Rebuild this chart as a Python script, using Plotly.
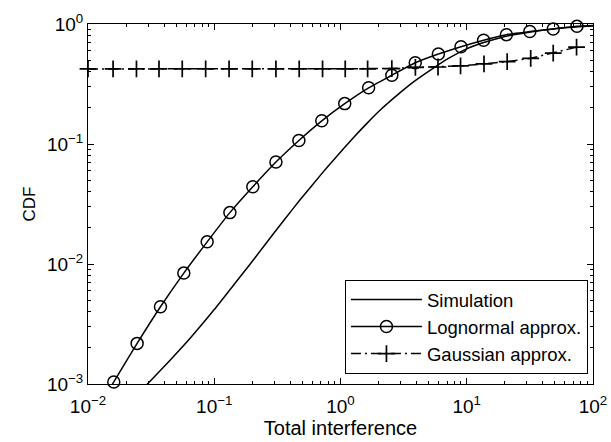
import plotly.graph_objects as go

# ---- data ----
sim_x = [0.0275, 0.0305, 0.0447, 0.0649, 0.1, 0.141, 0.188, 0.247, 0.355, 0.482,
         0.708, 0.885, 1.259, 1.626, 2.075, 2.985, 3.811, 5.483, 6.998, 10.07,
         12.85, 18.49, 23.6, 33.96, 43.35, 62.37, 100.0]
sim_y = [0.000923, 0.001035, 0.00158, 0.00243, 0.00417, 0.00659, 0.00968, 0.01406,
         0.02307, 0.03459, 0.05636, 0.07396, 0.1122, 0.1493, 0.1928, 0.2692, 0.3311,
         0.4315, 0.5093, 0.6237, 0.6871, 0.7691, 0.8128, 0.8670, 0.8974, 0.9333,
         0.9616]

logn_x = [0.016, 0.0245, 0.0375, 0.0574, 0.0879, 0.133, 0.202, 0.308, 0.468, 0.711,
          1.08, 1.67, 2.55, 3.91, 5.96, 9.0, 13.6, 20.6, 31.6, 48.4, 74.6]
logn_y = [0.00104, 0.00218, 0.0044, 0.0084, 0.0153, 0.0268, 0.044, 0.0707, 0.107,
          0.156, 0.217, 0.294, 0.374, 0.475, 0.562, 0.647, 0.733, 0.815, 0.865,
          0.91, 0.956]
# line continuation beyond the first / last marker
logn_ext_lo_x = [0.01426, 0.016]
logn_ext_lo_y = [0.00085, 0.00104]
logn_ext_hi_x = [74.6, 100.0]
logn_ext_hi_y = [0.956, 0.97]

gauss_x = [0.01, 0.0158, 0.0242, 0.0365, 0.0558, 0.0855, 0.131, 0.2, 0.308, 0.471,
           0.721, 1.09, 1.64, 2.55, 3.92, 5.92, 8.93, 13.7, 20.9, 32.1, 48.4, 74.1]
gauss_y = [0.422, 0.422, 0.422, 0.422, 0.422, 0.422, 0.422, 0.422, 0.422, 0.422,
           0.422, 0.422, 0.422, 0.425, 0.435, 0.438, 0.447, 0.465, 0.486, 0.518,
           0.571, 0.641]

x_tickvals = [0.01, 0.1, 1, 10, 100]
x_ticktext = ["10<sup>\u22122</sup>", "10<sup>\u22121</sup>", "10<sup>0</sup>",
              "10<sup>1</sup>", "10<sup>2</sup>"]
y_tickvals = [0.001, 0.01, 0.1, 1]
y_ticktext = ["10<sup>\u22123</sup>", "10<sup>\u22122</sup>", "10<sup>\u22121</sup>",
              "10<sup>0</sup>"]
minor_mult = [2, 3, 4, 5, 6, 7, 8, 9]
x_minor = [m * d for d in [0.01, 0.1, 1, 10] for m in minor_mult]
y_minor = [m * d for d in [0.001, 0.01, 0.1] for m in minor_mult]

FONT = "Liberation Sans, Arial, Helvetica, sans-serif"
LW = 1.5
X_RANGE = [-2, 2]
Y_RANGE = [-3, 0]

fig = go.Figure()

# empty helper trace so that the minor-tick overlay axes get drawn
fig.add_trace(go.Scatter(
    x=[None], y=[None], xaxis="x2", yaxis="y2", mode="lines",
    showlegend=False, hoverinfo="skip",
))
fig.add_trace(go.Scatter(
    x=sim_x, y=sim_y, mode="lines", name="Simulation",
    line=dict(color="black", width=LW, shape="spline", smoothing=0.5),
))
fig.add_trace(go.Scatter(
    x=logn_ext_lo_x, y=logn_ext_lo_y, mode="lines", showlegend=False,
    line=dict(color="black", width=LW), hoverinfo="skip",
))
fig.add_trace(go.Scatter(
    x=logn_ext_hi_x, y=logn_ext_hi_y, mode="lines", showlegend=False,
    line=dict(color="black", width=LW), hoverinfo="skip",
))
fig.add_trace(go.Scatter(
    x=logn_x, y=logn_y, mode="lines+markers", name="Lognormal approx.",
    line=dict(color="black", width=LW, shape="spline", smoothing=0.5),
    marker=dict(symbol="circle-open", size=12, color="black",
                line=dict(color="black", width=1.5)),
    cliponaxis=False,
))
fig.add_trace(go.Scatter(
    x=gauss_x, y=gauss_y, mode="lines+markers", name="Gaussian approx.",
    line=dict(color="black", width=LW, dash="10px,4px,2px,4px"),
    marker=dict(symbol="cross-thin-open", size=12, color="black",
                line=dict(color="black", width=1.7)),
    cliponaxis=False,
))

axis_common = dict(
    type="log", showline=True, linecolor="black", linewidth=1,
    mirror="allticks", ticks="inside", ticklen=6, tickwidth=1, tickcolor="black",
    showgrid=False, zeroline=False, automargin=False,
    tickfont=dict(family=FONT, size=19, color="black"),
)

fig.update_layout(
    xaxis=dict(
        **axis_common, range=X_RANGE,
        tickmode="array", tickvals=x_tickvals, ticktext=x_ticktext,
        ticklabelstandoff=5,
        title=dict(text="Total interference",
                   font=dict(family=FONT, size=20, color="black"), standoff=4),
    ),
    yaxis=dict(
        **axis_common, range=Y_RANGE,
        tickmode="array", tickvals=y_tickvals, ticktext=y_ticktext,
        title=dict(text="CDF", font=dict(family=FONT, size=17, color="black"),
                   standoff=6),
    ),
    # overlay axes that only carry the short minor ticks
    xaxis2=dict(
        type="log", range=X_RANGE, overlaying="x", anchor="y2", side="bottom",
        tickmode="array", tickvals=x_minor, ticks="inside", ticklen=3,
        tickwidth=1, tickcolor="black", mirror="allticks", showline=True,
        linecolor="black", linewidth=1,
        showticklabels=False, showgrid=False, zeroline=False, automargin=False,
    ),
    yaxis2=dict(
        type="log", range=Y_RANGE, overlaying="y", anchor="x2", side="left",
        tickmode="array", tickvals=y_minor, ticks="inside", ticklen=3,
        tickwidth=1, tickcolor="black", mirror="allticks", showline=True,
        linecolor="black", linewidth=1,
        showticklabels=False, showgrid=False, zeroline=False, automargin=False,
    ),
    width=611, height=442,
    margin=dict(l=88, r=18, t=24, b=58),
    paper_bgcolor="white", plot_bgcolor="white",
    font=dict(family=FONT, size=19, color="black"),
    legend=dict(
        x=0.99, y=0.028, xanchor="right", yanchor="bottom",
        bgcolor="white", bordercolor="black", borderwidth=1,
        font=dict(family=FONT, size=18.5, color="black"),
        itemwidth=71, tracegroupgap=0,
    ),
    showlegend=True,
)

fig.write_html("out.html")
